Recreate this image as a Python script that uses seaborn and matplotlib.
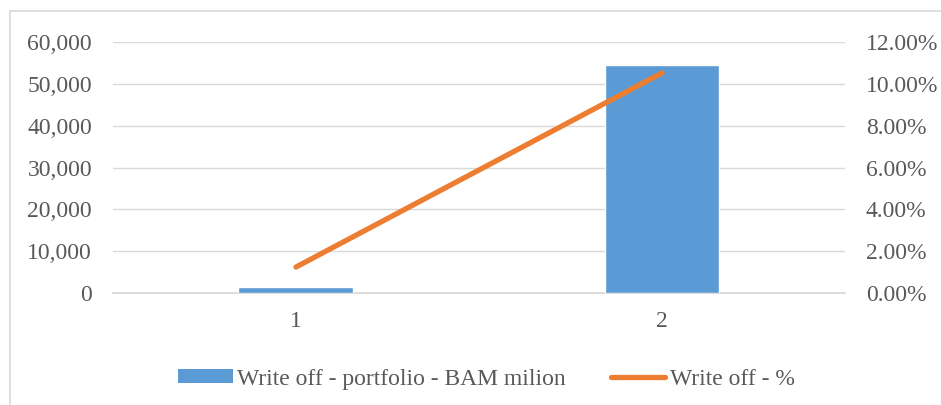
import numpy as np
import pandas as pd
import matplotlib.pyplot as plt
import seaborn as sns
from matplotlib.ticker import FuncFormatter
from matplotlib.patches import Patch
from matplotlib.lines import Line2D

# data
categories = ["1", "2"]
portfolio = [1450, 54400]      # Write off - portfolio - BAM milion
write_off_pct = [1.24, 10.52]  # Write off - %

df = pd.DataFrame({"cat": categories, "portfolio": portfolio, "pct": write_off_pct})

sns.set_theme(style="white")
plt.rcParams["font.family"] = ["Liberation Serif", "DejaVu Serif"]
grey = "#595959"
fs = 17

fig = plt.figure(figsize=(9.41, 4.05), dpi=100)
ax = fig.add_axes([0.120, 0.2765, 0.778, 0.6198])

sns.barplot(data=df, x="cat", y="portfolio", color="#5B9BD5", saturation=1,
            width=0.314, ax=ax, zorder=3)
ax.set_ylim(0, 60000)
ax.set_yticks(np.arange(0, 60001, 10000))
ax.yaxis.set_major_formatter(FuncFormatter(lambda v, _: f"{int(v):,}"))
ax.grid(axis="y", color="#d9d9d9", linewidth=1, zorder=0)
ax.set_xlim(-0.5, 1.5)
ax.set_xlabel("")
ax.set_ylabel("")
for s in ["top", "right", "left"]:
    ax.spines[s].set_visible(False)
ax.spines["bottom"].set_color("#d9d9d9")
ax.tick_params(axis="y", length=0, labelsize=fs, colors=grey, pad=15)
ax.tick_params(axis="x", length=0, labelsize=fs, colors=grey, pad=13)

ax2 = ax.twinx()
sns.lineplot(x=[0, 1], y=write_off_pct, color="#ED7D31", linewidth=3.8,
             solid_capstyle="round", ax=ax2, zorder=4)
ax2.set_ylim(0, 12)
ax2.set_yticks(np.arange(0, 12.1, 2))
ax2.yaxis.set_major_formatter(FuncFormatter(lambda v, _: f"{v:.2f}%"))
for s in ax2.spines.values():
    s.set_visible(False)
ax2.tick_params(axis="y", length=0, labelsize=fs, colors=grey, pad=15)
ax2.set_ylabel("")

handles = [Patch(facecolor="#5B9BD5", edgecolor="none"),
           Line2D([0], [0], color="#ED7D31", linewidth=3.8, solid_capstyle="round")]
labels = ["Write off - portfolio - BAM milion", "Write off - %"]
fig.legend(handles, labels, loc="center", bbox_to_anchor=(0.517, 0.064), ncol=2,
           frameon=False, fontsize=fs, labelcolor=grey, handlelength=2.3,
           handletextpad=0.2, columnspacing=1.9, handleheight=0.5)

# chart frame (only left and top edges are visible in the crop)
fig.add_artist(Line2D([0.0106, 0.0106], [0, 0.973], transform=fig.transFigure,
                      color="#d9d9d9", linewidth=1.2))
fig.add_artist(Line2D([0.0106, 1], [0.973, 0.973], transform=fig.transFigure,
                      color="#d9d9d9", linewidth=1.2))

fig.savefig("out.png", dpi=100)
